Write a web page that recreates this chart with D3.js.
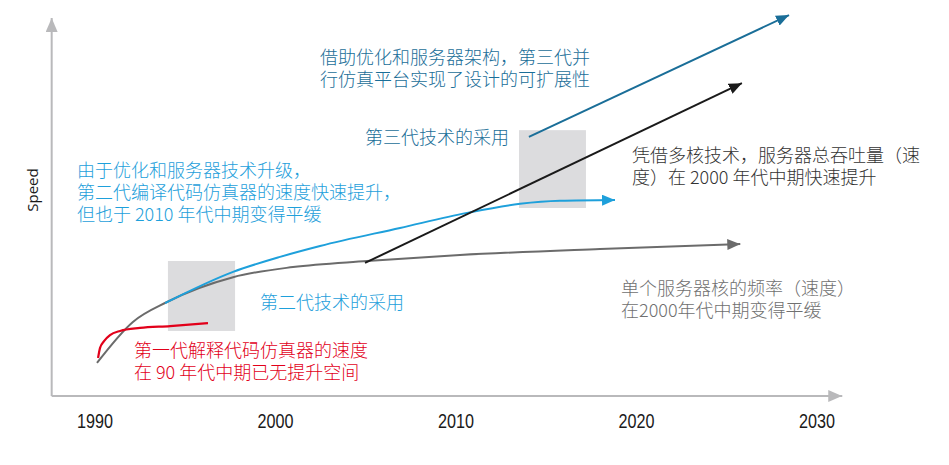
<!DOCTYPE html>
<html>
<head>
<meta charset="utf-8">
<script src="https://cdn.jsdelivr.net/npm/d3@7"></script>
<style>
  body { margin: 0; background: #fff; }
  svg { display: block; }
  .cjk { font-family: "Noto Sans CJK SC", sans-serif; font-size: 18px; font-weight: 300; }
  .tick-lbl { font-family: "Liberation Sans", sans-serif; font-size: 20px; font-weight: normal; fill: #1a1a1a; }
</style>
</head>
<body>
<script>
// ticks on the time axis
var tickYears = [1990, 2000, 2010, 2020, 2030];

// series: [year, speed]
var interpreted = [[1990.17, 10.1], [1990.28, 12.8], [1990.5, 14.6], [1990.83, 16.2], [1991.39, 17.3], [1992.49, 18.1], [1994.16, 18.6], [1996.26, 19.4]];
var singleCore = [[1990.11, 8.8], [1992.1, 19.7], [1993.99, 25.0], [1997.65, 31.6], [2000.97, 34.3], [2005.07, 35.9], [2010.22, 37.5], [2017.98, 39.1], [2025.75, 40.4]];
var compiled = [[1993.88, 24.7], [1997.65, 33.0], [2000.25, 37.0], [2002.47, 39.9], [2006.9, 44.7], [2010.61, 48.7], [2013.55, 51.1], [2015.76, 51.9], [2018.81, 52.1]];
var multiCore = [[2004.96, 35.4], [2025.84, 83.2]];
var parallel = [[2014.04, 68.9], [2028.45, 101.3]];

// adoption periods (shaded boxes): [year0, year1, speed0, speed1]
var adoption = [[1994.04, 1997.76, 17.3, 35.9], [2013.49, 2017.2, 50.0, 70.7]];

var width = 949, height = 465;

var x = d3.scaleLinear().domain([1990, 2030]).range([95, 817]);
var y = d3.scaleLinear().domain([0, 100]).range([396, 20]);

var svg = d3.select("body").append("svg")
    .attr("width", width)
    .attr("height", height);

var defs = svg.append("defs");
function arrow(id, color, len, wid) {
    defs.append("marker")
        .attr("id", id)
        .attr("markerUnits", "userSpaceOnUse")
        .attr("viewBox", "0 0 " + len + " " + wid)
        .attr("refX", len).attr("refY", wid / 2)
        .attr("markerWidth", len).attr("markerHeight", wid)
        .attr("orient", "auto")
        .append("path")
        .attr("d", "M0,0L" + len + "," + (wid / 2) + "L0," + wid + "Z")
        .attr("fill", color);
}
arrow("a-axis", "#b9b9bb", 14, 12);
arrow("a-gray", "#6b6b6b", 13, 11);
arrow("a-blue", "#1ea0db", 13, 11);
arrow("a-black", "#1a1a1a", 13, 11);
arrow("a-dblue", "#1a6e98", 13, 11);

// shaded boxes
svg.selectAll("rect.adopt")
    .data(adoption)
    .enter().append("rect")
    .attr("class", "adopt")
    .attr("x", function(d){ return x(d[0]); })
    .attr("width", function(d){ return x(d[1]) - x(d[0]); })
    .attr("y", function(d){ return y(d[3]); })
    .attr("height", function(d){ return y(d[2]) - y(d[3]); })
    .attr("fill", "#dcdcde");

// axes (arrows, no ticks)
var axisYear0 = 1987.6, axisYear1 = 2031.4, axisTop = 100.5;
svg.append("line")
    .attr("x1", x(axisYear0)).attr("y1", y(0))
    .attr("x2", x(axisYear0)).attr("y2", y(axisTop))
    .attr("stroke", "#b9b9bb").attr("stroke-width", 2)
    .attr("marker-end", "url(#a-axis)");
svg.append("line")
    .attr("x1", x(axisYear0)).attr("y1", y(0))
    .attr("x2", x(axisYear1)).attr("y2", y(0))
    .attr("stroke", "#b9b9bb").attr("stroke-width", 2)
    .attr("marker-end", "url(#a-axis)");

// condensed year labels
svg.selectAll("text.tick-lbl")
    .data(tickYears)
    .enter().append("text")
    .attr("class", "tick-lbl")
    .attr("x", function(d){ return x(d) - 18; })
    .attr("y", 428)
    .attr("textLength", 36)
    .attr("lengthAdjust", "spacingAndGlyphs")
    .text(function(d){ return d; });

svg.append("text")
    .attr("transform", "translate(38,190) rotate(-90)")
    .attr("text-anchor", "middle")
    .style("font-family", "'Open Sans', sans-serif")
    .style("font-size", "15px")
    .attr("fill", "#1a1a1a")
    .text("Speed");

var line = d3.line()
    .x(function(d){ return x(d[0]); })
    .y(function(d){ return y(d[1]); })
    .curve(d3.curveMonotoneX);

function drawSeries(data, color, w, marker) {
    var p = svg.append("path")
        .datum(data)
        .attr("d", line)
        .attr("fill", "none")
        .attr("stroke", color)
        .attr("stroke-width", w);
    if (marker) p.attr("marker-end", "url(#" + marker + ")");
}
drawSeries(singleCore, "#6b6b6b", 2, "a-gray");
drawSeries(interpreted, "#e2001a", 2.2, null);
drawSeries(compiled, "#1ea0db", 2, "a-blue");
drawSeries(multiCore, "#1a1a1a", 2, "a-black");
drawSeries(parallel, "#1a6e98", 2, "a-dblue");

// annotations
function note(lines, px, py, color) {
    var t = svg.append("text").attr("class", "cjk").attr("fill", color);
    lines.forEach(function(s, i){
        t.append("tspan").attr("x", px).attr("y", py + i * 22).text(s);
    });
}
note(["借助优化和服务器架构，第三代并", "行仿真平台实现了设计的可扩展性"], 320, 64, "#1a6e98");
note(["第三代技术的采用"], 365, 144, "#1a6e98");
note(["由于优化和服务器技术升级，", "第二代编译代码仿真器的速度快速提升，", "但也于 2010 年代中期变得平缓"], 77, 177, "#1ea0db");
note(["凭借多核技术，服务器总吞吐量（速", "度）在 2000 年代中期快速提升"], 632, 162, "#333333");
note(["第二代技术的采用"], 260, 309, "#1ea0db");
note(["单个服务器核的频率（速度）", "在2000年代中期变得平缓"], 621, 295, "#707070");
note(["第一代解释代码仿真器的速度", "在 90 年代中期已无提升空间"], 134, 357, "#e2001a");
</script>
</body>
</html>
